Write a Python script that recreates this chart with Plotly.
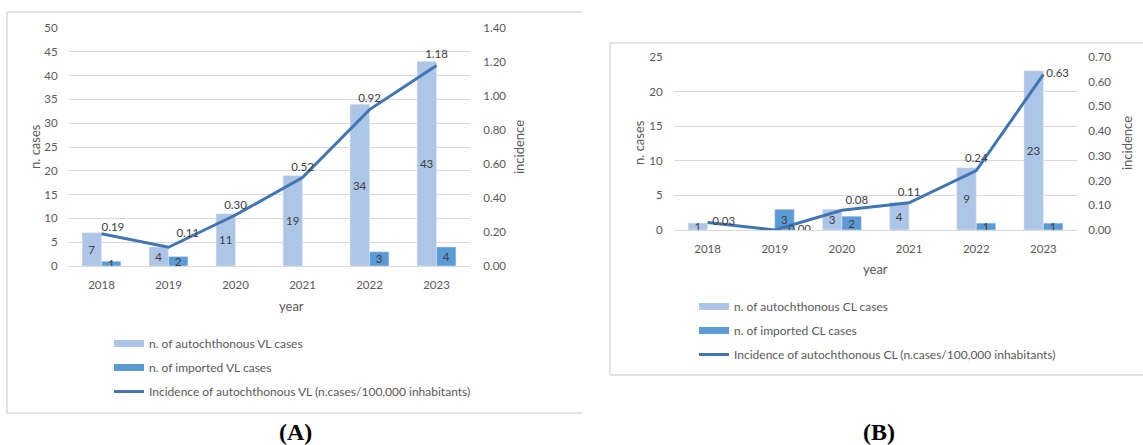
import plotly.graph_objects as go

W, H = 1143, 445

years = ["2018", "2019", "2020", "2021", "2022", "2023"]

vl_autochthonous = [7, 4, 11, 19, 34, 43]
vl_imported = [1, 2, None, None, 3, 4]
vl_incidence = [0.19, 0.11, 0.30, 0.52, 0.92, 1.18]

cl_autochthonous = [1, None, 3, 4, 9, 23]
cl_imported = [None, 3, 2, None, 1, 1]
cl_incidence = [0.03, 0.00, 0.08, 0.11, 0.24, 0.63]

vl_names = ["n. of autochthonous VL cases", "n. of imported VL cases",
            "Incidence of autochthonous VL (n.cases/100,000 inhabitants)"]
cl_names = ["n. of autochthonous CL cases", "n. of imported CL cases",
            "Incidence of autochthonous CL (n.cases/100,000 inhabitants)"]

# label placement styles for the incidence line labels (not data)
vl_line_pos = ["top right", "top right", "top center", "top center", "top center", "top center"]
vl_label_pad = [0, 11, 3, 5, 6, 6]
cl_line_pos = ["middle right", "middle right", "top right", "top center", "top center", "middle right"]
cl_label_pad = [6, 20, 4, 4, 8, 3]

C_AUTO = "#ADC5E6"
C_IMP = "#5B9BD5"
C_LINE = "#4176B2"
GRID = "#D9D9D9"
TXT = "#595959"
LBL = "#404040"
FONT = "Lato, Open Sans, sans-serif"


def px(x):
    return x / W


def py(y):
    return 1 - y / H


def fmt(v):
    return ["" if x is None else str(x) for x in v]


fig = go.Figure()


def add_panel(auto, imp, inc, names, xa, ya, ya2, pos, pad, legend):
    for vals, col, nm in ((auto, C_AUTO, names[0]), (imp, C_IMP, names[1])):
        fig.add_trace(go.Bar(x=years, y=vals, marker_color=col, xaxis=xa, yaxis=ya,
                             text=fmt(vals), textposition="inside", insidetextanchor="middle",
                             textangle=0, constraintext="none",
                             textfont=dict(color=LBL, size=11.5, family=FONT),
                             showlegend=False, name=nm))
    fig.add_trace(go.Scatter(x=years, y=inc, mode="lines+markers+text", xaxis=xa, yaxis=ya2,
                             line=dict(color=C_LINE, width=3),
                             marker=dict(size=pad, color="rgba(0,0,0,0)", opacity=0,
                                         line=dict(width=0, color="rgba(0,0,0,0)")),
                             text=[f"{v:.2f}" for v in inc], textposition=pos,
                             textfont=dict(color=LBL, size=11.5, family=FONT),
                             showlegend=False, name=names[2]))
    # legend entries
    for i, (nm, col, wd) in enumerate(zip(names, [C_AUTO, C_IMP, C_LINE], [7, 7, 3])):
        fig.add_trace(go.Scatter(x=[None], y=[None], mode="lines", xaxis=xa, yaxis=ya,
                                 line=dict(color=col, width=wd), name=nm,
                                 legend=legend, legendgroup=f"{legend}{i}", showlegend=True))


add_panel(vl_autochthonous, vl_imported, vl_incidence, vl_names, "x", "y", "y2",
          vl_line_pos, vl_label_pad, "legend")
add_panel(cl_autochthonous, cl_imported, cl_incidence, cl_names, "x2", "y3", "y4",
          cl_line_pos, cl_label_pad, "legend2")

tickfont = dict(color=TXT, size=11.5, family=FONT)

xcommon = dict(type="category", tickfont=tickfont, showgrid=False, showline=True,
               linecolor=GRID, linewidth=1, ticks="outside", ticklen=8,
               tickcolor="rgba(0,0,0,0)", fixedrange=True, automargin=False)
ycommon = dict(tickfont=tickfont, showline=False, zeroline=False, ticks="outside",
               tickcolor="rgba(0,0,0,0)", fixedrange=True, automargin=False)

fig.update_layout(
    width=W, height=H,
    margin=dict(l=0, r=0, t=0, b=0, autoexpand=False),
    paper_bgcolor="white", plot_bgcolor="white",
    barmode="group", bargap=0.42, bargroupgap=0,
    font=dict(family=FONT, color=TXT, size=11),
    xaxis=dict(domain=[px(68), px(470)], anchor="y", **xcommon),
    yaxis=dict(domain=[py(266), py(28)], anchor="x", range=[0, 50], dtick=5,
               showgrid=True, gridcolor=GRID, gridwidth=1, ticklen=7, **ycommon),
    yaxis2=dict(overlaying="y", anchor="x", side="right", range=[0, 1.4], dtick=0.2,
                tickformat=".2f", showgrid=False, ticklen=10, **ycommon),
    xaxis2=dict(domain=[px(674), px(1077)], anchor="y3", **xcommon),
    yaxis3=dict(domain=[py(230), py(57)], anchor="x2", range=[0, 25], dtick=5,
                showgrid=True, gridcolor=GRID, gridwidth=1, ticklen=8, **ycommon),
    yaxis4=dict(overlaying="y3", anchor="x2", side="right", range=[0, 0.7], dtick=0.1,
                tickformat=".2f", showgrid=False, ticklen=8, **ycommon),
    legend=dict(x=px(109), y=py(329), xanchor="left", yanchor="top",
                font=dict(color=TXT, size=12, family=FONT), traceorder="grouped",
                tracegroupgap=5, bgcolor="rgba(0,0,0,0)"),
    legend2=dict(x=px(694), y=py(292), xanchor="left", yanchor="top",
                 font=dict(color=TXT, size=12, family=FONT), traceorder="grouped",
                 tracegroupgap=5, bgcolor="rgba(0,0,0,0)"),
)

ann = []


def label(text, x, y, angle=0, size=13, color=TXT, family=FONT):
    ann.append(dict(text=text, x=px(x), y=py(y), xref="paper", yref="paper",
                    showarrow=False, textangle=angle, xanchor="center", yanchor="middle",
                    font=dict(size=size, color=color, family=family)))


label("n. cases", 35, 147, -90)
label("incidence", 519, 147, -90)
label("year", 291, 306)
label("n. cases", 639, 143, -90)
label("incidence", 1127, 143, -90)
label("year", 875, 269)
label("<b>(A)</b>", 295, 432, size=24, color="#000000", family="Liberation Serif, serif")
label("<b>(B)</b>", 879, 432, size=24, color="#000000", family="Liberation Serif, serif")
fig.update_layout(annotations=ann)

shapes = []


def seg(x0, y0, x1, y1):
    shapes.append(dict(type="line", xref="paper", yref="paper", x0=px(x0), y0=py(y0),
                       x1=px(x1), y1=py(y1), line=dict(color=GRID, width=1.5)))


# panel A frame (cropped on the right)
seg(7, 12, 582, 12)
seg(7, 12, 7, 413)
seg(7, 413, 582, 413)
# panel B frame (cropped on the right)
seg(610, 43, 1143, 43)
seg(610, 43, 610, 375)
seg(610, 375, 1143, 375)
fig.update_layout(shapes=shapes)

fig.write_html("out.html", config={"displayModeBar": False},
               post_script="document.body.style.margin='0';")
